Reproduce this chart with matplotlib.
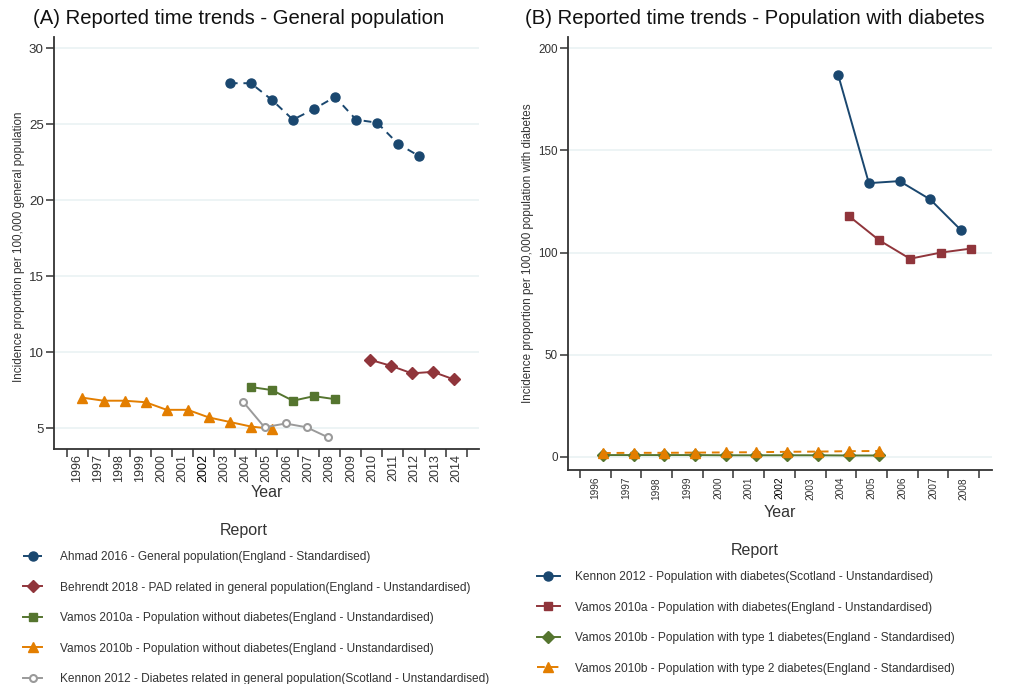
import matplotlib.pyplot as plt

plt.rcParams['font.family'] = 'Liberation Sans'

# ---------------- DATA ----------------
# Panel A - general population
ahmad_years = [2003, 2004, 2005, 2006, 2007, 2008, 2009, 2010, 2011, 2012]
ahmad_vals = [27.7, 27.7, 26.6, 25.3, 26.0, 26.8, 25.3, 25.1, 23.7, 22.9]

behrendt_years = [2010, 2011, 2012, 2013, 2014]
behrendt_vals = [9.5, 9.1, 8.6, 8.7, 8.2]

vamos_a_years = [2004, 2005, 2006, 2007, 2008]
vamos_a_vals = [7.7, 7.5, 6.8, 7.1, 6.9]

vamos_b_years = [1996, 1997, 1998, 1999, 2000, 2001, 2002, 2003, 2004, 2005]
vamos_b_vals = [7.0, 6.8, 6.8, 6.7, 6.2, 6.2, 5.7, 5.4, 5.1, 4.95]

kennon_gen_years = [2004, 2005, 2006, 2007, 2008]
kennon_gen_vals = [6.7, 5.05, 5.3, 5.05, 4.4]

# Panel B - population with diabetes
kennon_dm_years = [2004, 2005, 2006, 2007, 2008]
kennon_dm_vals = [187, 134, 135, 126, 111]

vamos_a_dm_years = [2004, 2005, 2006, 2007, 2008]
vamos_a_dm_vals = [118, 106, 97, 100, 102]

vamos_t1_years = [1996, 1997, 1998, 1999, 2000, 2001, 2002, 2003, 2004, 2005]
vamos_t1_vals = [0.9, 0.9, 0.9, 0.9, 0.8, 0.8, 0.8, 0.8, 0.7, 0.7]

vamos_t2_years = [1996, 1997, 1998, 1999, 2000, 2001, 2002, 2003, 2004, 2005]
vamos_t2_vals = [1.9, 2.0, 2.0, 2.1, 2.2, 2.3, 2.5, 2.6, 2.8, 2.9]

years_a = list(range(1996, 2015))
years_b = list(range(1996, 2009))

# ---------------- STYLE ----------------
navy = '#1a476f'
maroon = '#90353b'
forest = '#55752f'
orange = '#e37e00'
grey = '#9a9a9a'
grid_col = '#eaf2f3'
txt = '#333333'


def shift(years, off):
    return [y + off for y in years]


def style_axes(ax, years, tick_size, tick_pad):
    for s in ['top', 'right']:
        ax.spines[s].set_visible(False)
    for s in ['left', 'bottom']:
        ax.spines[s].set_linewidth(1.3)
        ax.spines[s].set_color('#333333')
    ax.grid(axis='y', color=grid_col, linewidth=1.2, zorder=0)
    ax.set_axisbelow(True)
    # tick marks between the years, labels in the middle
    ax.set_xticks([y - 0.5 for y in years + [years[-1] + 1]])
    ax.set_xticklabels([])
    ax.set_xticks(years, minor=True)
    ax.set_xticklabels([str(y) for y in years], minor=True, rotation=90,
                       fontsize=tick_size, color=txt)
    ax.tick_params(axis='x', which='major', length=5.5, width=1.1, color='#333333')
    ax.tick_params(axis='x', which='minor', length=0, pad=tick_pad)
    ax.tick_params(axis='y', length=6, width=1.1, color='#333333', pad=1.5)
    for lab in ax.get_xticklabels(minor=True):
        if lab.get_text() == '2002':
            lab.set_color('#000000')


fig = plt.figure(figsize=(10.11, 6.84), dpi=100)

# ---------------- PANEL A ----------------
ax1 = fig.add_axes([0.0537, 0.3431, 0.4201, 0.6032])
lw = 1.4
ax1.plot(shift(ahmad_years, 0.25), ahmad_vals, color=navy, lw=lw, dashes=(4, 3),
         marker='o', ms=6.5, label='Ahmad 2016 - General population(England - Standardised)')
ax1.plot(shift(behrendt_years, -0.1), behrendt_vals, color=maroon, lw=lw,
         marker='D', ms=6, label='Behrendt 2018 - PAD related in general population(England - Unstandardised)')
ax1.plot(shift(vamos_a_years, 0.25), vamos_a_vals, color=forest, lw=lw,
         marker='s', ms=6, label='Vamos 2010a - Population without diabetes(England - Unstandardised)')
ax1.plot(shift(vamos_b_years, 0.25), vamos_b_vals, color=orange, lw=lw,
         marker='^', ms=7, label='Vamos 2010b - Population without diabetes(England - Unstandardised)')
ax1.plot(shift(kennon_gen_years, -0.1), kennon_gen_vals, color=grey, lw=lw,
         marker='o', ms=5, mfc='white', mew=1.5,
         label='Kennon 2012 - Diabetes related in general population(Scotland - Unstandardised)')

ax1.set_xlim(1994.91, 2015.09)
ax1.set_ylim(3.6, 30.76)
ax1.set_yticks([5, 10, 15, 20, 25, 30])
ax1.tick_params(axis='y', labelsize=9.6, labelcolor=txt)
style_axes(ax1, years_a, 9.0, 3.3)
ax1.set_ylabel('Incidence proportion per 100,000 general population', fontsize=8.4, color=txt)
ax1.yaxis.set_label_coords(-0.084, 0.49)
ax1.yaxis.label.set_va('center')
ax1.set_xlabel('Year', fontsize=11.5, color=txt)
ax1.xaxis.set_label_coords(0.5, -0.105)
ax1.xaxis.label.set_va('center')

fig.text(33 / 1011, 1 - 18 / 684, '(A) Reported time trends - General population',
         fontsize=14.6, va='center', ha='left', color='#111111')
fig.text(244 / 1011, 1 - 530.7 / 684, 'Report', fontsize=11.5, ha='center', va='center', color=txt)
ax1.legend(loc='upper left', bbox_to_anchor=(23 / 1011, 1 - 551 / 684),
           bbox_transform=fig.transFigure, frameon=False, borderpad=0, borderaxespad=0,
           fontsize=8.6, handlelength=1.6, handletextpad=1.5, labelspacing=1.55,
           numpoints=1, labelcolor=txt)

# ---------------- PANEL B ----------------
ax2 = fig.add_axes([0.5621, 0.3129, 0.4188, 0.6335])
ax2.plot(shift(kennon_dm_years, -0.09), kennon_dm_vals, color=navy, lw=lw,
         marker='o', ms=6.5, label='Kennon 2012 - Population with diabetes(Scotland - Unstandardised)')
ax2.plot(shift(vamos_a_dm_years, 0.25), vamos_a_dm_vals, color=maroon, lw=lw,
         marker='s', ms=6, label='Vamos 2010a - Population with diabetes(England - Unstandardised)')
ax2.plot(shift(vamos_t1_years, 0.25), vamos_t1_vals, color=forest, lw=lw,
         marker='D', ms=6, label='Vamos 2010b - Population with type 1 diabetes(England - Standardised)')
ax2.plot(shift(vamos_t2_years, 0.25), vamos_t2_vals, color=orange, lw=lw, dashes=(4, 3),
         marker='^', ms=7, label='Vamos 2010b - Population with type 2 diabetes(England - Standardised)')

ax2.set_xlim(1995.12, 2008.91)
ax2.set_ylim(-6.4, 205.7)
ax2.set_yticks([0, 50, 100, 150, 200])
ax2.tick_params(axis='y', labelsize=8.4, labelcolor=txt)
style_axes(ax2, years_b, 7.3, 5.0)
ax2.set_ylabel('Incidence proportion per 100,000 population with diabetes', fontsize=8.4, color=txt)
ax2.yaxis.set_label_coords(-0.0945, 0.5)
ax2.yaxis.label.set_va('center')
ax2.set_xlabel('Year', fontsize=11.5, color=txt)
ax2.xaxis.set_label_coords(0.5, -0.099)
ax2.xaxis.label.set_va('center')

fig.text(525 / 1011, 1 - 18 / 684, '(B) Reported time trends - Population with diabetes',
         fontsize=14.6, va='center', ha='left', color='#111111')
fig.text(755 / 1011, 1 - 550.7 / 684, 'Report', fontsize=11.5, ha='center', va='center', color=txt)
ax2.legend(loc='upper left', bbox_to_anchor=(537 / 1011, 1 - 571 / 684),
           bbox_transform=fig.transFigure, frameon=False, borderpad=0, borderaxespad=0,
           fontsize=8.6, handlelength=1.9, handletextpad=1.3, labelspacing=1.55,
           numpoints=1, labelcolor=txt)

fig.savefig('out.png', dpi=100)
